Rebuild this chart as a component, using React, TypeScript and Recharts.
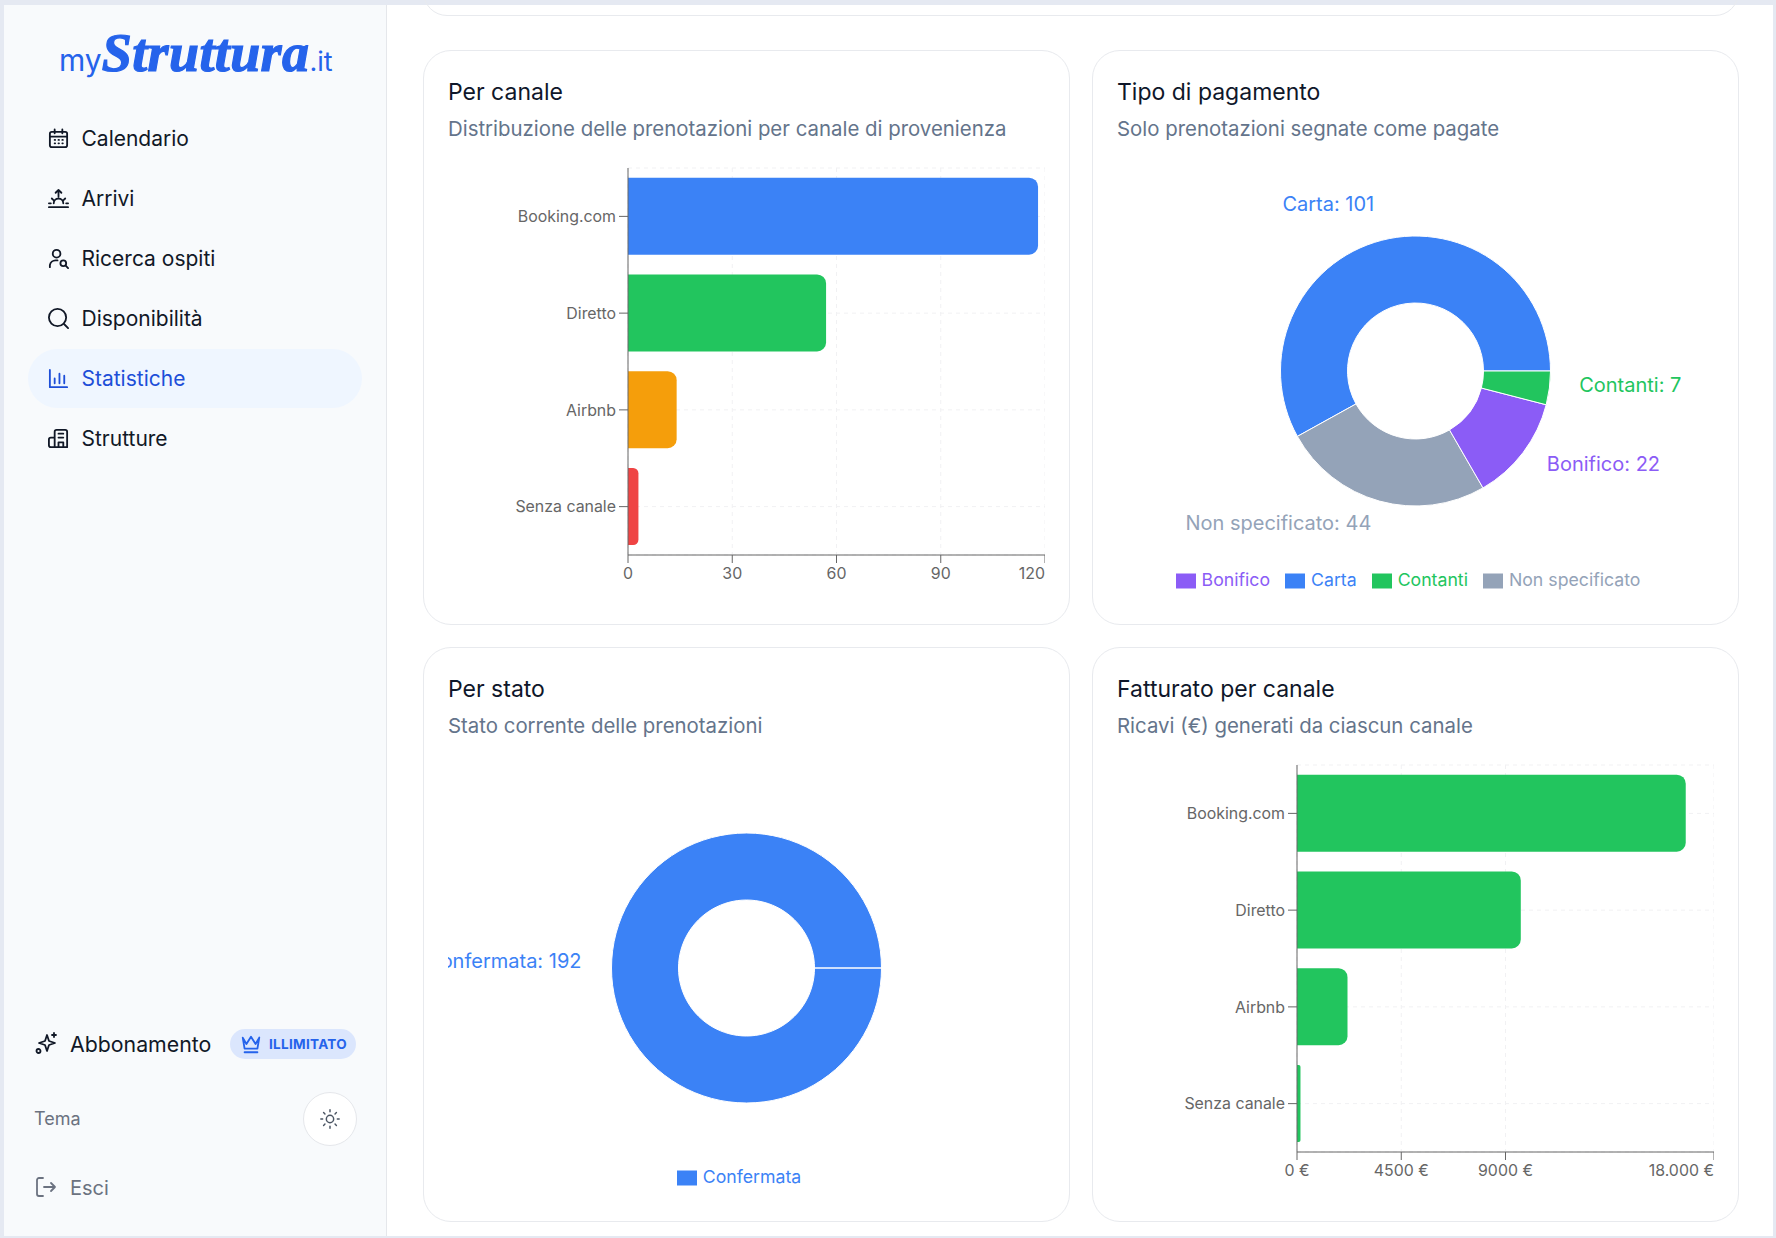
import React from "react";
import { BarChart, Bar, Cell, XAxis, YAxis, CartesianGrid, PieChart, Pie, Legend } from "recharts";

const FONT = "Inter, 'Noto Sans', sans-serif";
// recharts measures tick labels in a span on body, so it has to see the same font
document.body.style.fontFamily = FONT;

const channels = ["Booking.com", "Diretto", "Airbnb", "Senza canale"];
const channelBookings = [118, 57, 14, 3];
const channelColors = ["#3b82f6", "#22c55e", "#f59e0b", "#ef4444"];
const bookingTicks = [0, 30, 60, 90, 120];

const channelRevenue = [16780, 9660, 2180, 150];
const revenueTicks = [0, 4500, 9000, 18000];
const revenueTickLabels = ["0 €", "4500 €", "9000 €", "18.000 €"];

const paymentNames = ["Carta", "Non specificato", "Bonifico", "Contanti"];
const paymentValues = [101, 44, 22, 7];
const paymentColors = ["#3b82f6", "#94a3b8", "#8b5cf6", "#22c55e"];

const statusNames = ["Confermata"];
const statusValues = [192];
const statusColors = ["#3b82f6"];

const navItems = ["Calendario", "Arrivi", "Ricerca ospiti", "Disponibilità", "Statistiche", "Strutture"];

const CHART_W = 597;
const CHART_H = 440;
const RAD = Math.PI / 180;

function PieLabel(p: any) {
  const r = p.outerRadius + 30;
  const x = p.cx + r * Math.cos(-p.midAngle * RAD);
  const y = p.cy + r * Math.sin(-p.midAngle * RAD);
  return (
    <text x={x} y={y} fill={p.fill} textAnchor={x > p.cx ? "start" : "end"} fontSize={20} fontFamily={FONT}>
      {`${p.name}: ${p.value}`}
    </text>
  );
}

function Donut({ names, values, colors }: { names: string[]; values: number[]; colors: string[] }) {
  const rows = names.map((name, i) => ({ name, value: values[i], fill: colors[i] }));
  return (
    <PieChart width={CHART_W} height={CHART_H} margin={{ top: 0, right: 0, bottom: 9, left: 0 }}>
      <Pie
        data={rows}
        dataKey="value"
        nameKey="name"
        cx="50%"
        cy={211}
        innerRadius={68}
        outerRadius={135}
        label={PieLabel}
        labelLine={false}
        isAnimationActive={false}
      />
      <Legend iconSize={20} wrapperStyle={{ fontSize: 17.7, fontFamily: FONT }} />
    </PieChart>
  );
}

function HBar({ values, colors, ticks, fmt }: { values: number[]; colors: string[]; ticks: number[]; fmt?: (v: number) => string }) {
  const rows = channels.map((name, i) => ({ name, value: values[i] }));
  return (
    <BarChart width={CHART_W} height={CHART_H} data={rows} layout="vertical" margin={{ top: 8, right: 0, bottom: 15, left: 0 }}>
      <CartesianGrid strokeDasharray="4 4" stroke="#f1f1f3" />
      <XAxis
        type="number"
        domain={[ticks[0], ticks[ticks.length - 1]]}
        ticks={ticks}
        tickFormatter={fmt}
        height={30}
        tickSize={8}
        tickMargin={5}
        tick={{ fontSize: 15.9, fontFamily: FONT, fill: "#666" }}
        stroke="#666"
      />
      <YAxis
        type="category"
        dataKey="name"
        width={180}
        tickSize={9}
        tickMargin={3}
        tick={{ fontSize: 15.9, fontFamily: FONT, fill: "#666" }}
        stroke="#666"
      />
      <Bar dataKey="value" radius={[0, 9, 9, 0]} isAnimationActive={false}>
        {rows.map((r, i) => (
          <Cell key={r.name} fill={colors[i % colors.length]} />
        ))}
      </Bar>
    </BarChart>
  );
}

function Card({ x, y, title, sub, children }: { x: number; y: number; title: string; sub: string; children: React.ReactNode }) {
  return (
    <div style={{ position: "absolute", left: x, top: y, width: 647, height: 575, boxSizing: "border-box", background: "#fff", border: "1px solid #e8eaee", borderRadius: 28 }}>
      <div style={{ position: "absolute", left: 24, top: 26, fontSize: 23, lineHeight: "30px", color: "#0f172a", whiteSpace: "nowrap" }}>{title}</div>
      <div style={{ position: "absolute", left: 24, top: 64, fontSize: 20.4, lineHeight: "28px", color: "#64748b", whiteSpace: "nowrap" }}>{sub}</div>
      <div style={{ position: "absolute", left: 24, top: 109, width: CHART_W, height: CHART_H, overflow: "hidden" }}>{children}</div>
    </div>
  );
}

const iconPaths: Record<string, React.ReactNode> = {
  Calendario: (
    <>
      <rect x="3" y="5" width="18" height="16" rx="2" />
      <path d="M3 10h18M8 2.5v4M16 2.5v4M8 13.5h.5M12 13.5h.5M16 13.5h.5M8 17h.5M12 17h.5M16 17h.5" />
    </>
  ),
  Arrivi: <path d="M2 21h20M12 3v7M9 6l3-3 3 3M7 17a5 5 0 0 1 10 0M2 17h2M20 17h2M5 12l1.5 1.5M19 12l-1.5 1.5" />,
  "Ricerca ospiti": (
    <>
      <circle cx="10" cy="7" r="4" />
      <path d="M3 21v-2a6 6 0 0 1 6-5h2" />
      <circle cx="17" cy="17" r="3" />
      <path d="M19.5 19.5L22 22" />
    </>
  ),
  Disponibilità: (
    <>
      <circle cx="11" cy="11" r="9" />
      <path d="M18 18l4 4" />
    </>
  ),
  Statistiche: <path d="M3 3v18h18M8 17v-5M13 17V7M18 17v-8" />,
  Strutture: (
    <>
      <path d="M8 21V5a2 2 0 0 1 2-2h9a2 2 0 0 1 2 2v16zM8 11H4a2 2 0 0 0-2 2v6a2 2 0 0 0 2 2h4" />
      <path d="M12 7h5M12 11h5M12 21v-5h5v5" />
    </>
  ),
};

function Sidebar() {
  return (
    <div style={{ position: "absolute", left: 4, top: 5, width: 383, height: 1231, background: "#f8fafc", borderRight: "1px solid #e5e7eb", boxSizing: "border-box" }}>
      <div style={{ position: "absolute", left: 55, top: 18, whiteSpace: "nowrap", color: "#2563eb", lineHeight: "60px" }}>
        <span style={{ fontSize: 30 }}>my</span>
        <span style={{ fontSize: 54, letterSpacing: 0.4, fontFamily: "'Liberation Serif', serif", fontStyle: "italic", fontWeight: 700, WebkitTextStroke: "1.2px #2563eb" }}>Struttura</span>
        <span style={{ fontSize: 27 }}>.it</span>
      </div>
      <div style={{ position: "absolute", left: 24, top: 344, width: 334, height: 59, borderRadius: 30, background: "#eff6ff" }} />
      {navItems.map((item, i) => {
        const active = item === "Statistiche";
        const color = active ? "#1d4ed8" : "#111827";
        return (
          <div key={item} style={{ position: "absolute", left: 43, top: 108 + i * 60, height: 50, display: "flex", alignItems: "center", color }}>
            <svg width="23" height="23" viewBox="0 0 24 24" fill="none" stroke={color} strokeWidth="1.9" strokeLinecap="round" strokeLinejoin="round">
              {iconPaths[item]}
            </svg>
            <span style={{ marginLeft: 11.5, fontSize: 21 }}>{item}</span>
          </div>
        );
      })}
      <svg style={{ position: "absolute", left: 30, top: 1026 }} width="24" height="24" viewBox="0 0 24 24" fill="none" stroke="#111827" strokeWidth="1.8" strokeLinecap="round" strokeLinejoin="round">
        <path d="M13 4l2 6 6 2-6 2-2 6-2-6-6-2 6-2zM20 2v4M18 4h4" />
        <circle cx="4.5" cy="20" r="2" />
      </svg>
      <div style={{ position: "absolute", left: 66, top: 1024, fontSize: 21.3, lineHeight: "30px", color: "#111827" }}>Abbonamento</div>
      <div style={{ position: "absolute", left: 226, top: 1024, width: 126, height: 30, borderRadius: 15, background: "#dbe6fd", display: "flex", alignItems: "center" }}>
        <svg style={{ marginLeft: 10 }} width="22" height="22" viewBox="0 0 24 24" fill="none" stroke="#2563eb" strokeWidth="2" strokeLinecap="round" strokeLinejoin="round">
          <path d="M3 5l4 7 5-8 5 8 4-7-2 12H5zM5 21h14" />
        </svg>
        <span style={{ marginLeft: 7, fontSize: 13.5, fontWeight: 700, color: "#2563eb", letterSpacing: 0.3 }}>ILLIMITATO</span>
      </div>
      <div style={{ position: "absolute", left: 30, top: 1099, fontSize: 18, lineHeight: "30px", color: "#6b7280" }}>Tema</div>
      <div style={{ position: "absolute", left: 299, top: 1087, width: 54, height: 54, boxSizing: "border-box", borderRadius: 27, background: "#fff", border: "1px solid #e5e7eb", display: "flex", alignItems: "center", justifyContent: "center" }}>
        <svg width="22" height="22" viewBox="0 0 24 24" fill="none" stroke="#4b5563" strokeWidth="1.6" strokeLinecap="round">
          <circle cx="12" cy="12" r="4" />
          <path d="M12 2v2M12 20v2M2 12h2M20 12h2M5 5l1.5 1.5M17.5 17.5L19 19M5 19l1.5-1.5M17.5 6.5L19 5" />
        </svg>
      </div>
      <svg style={{ position: "absolute", left: 30, top: 1170 }} width="24" height="24" viewBox="0 0 24 24" fill="none" stroke="#6b7280" strokeWidth="1.8" strokeLinecap="round" strokeLinejoin="round">
        <path d="M9 3H5a2 2 0 0 0-2 2v14a2 2 0 0 0 2 2h4M10 12h11M17 8l4 4-4 4" />
      </svg>
      <div style={{ position: "absolute", left: 66, top: 1168, fontSize: 20, lineHeight: "30px", color: "#6b7280" }}>Esci</div>
    </div>
  );
}

const euro = (v: number) => revenueTickLabels[revenueTicks.indexOf(v)];

export default function App() {
  return (
    <div style={{ position: "absolute", left: 0, top: 0, width: 1776, height: 1238, overflow: "hidden", background: "#e5e9f2", fontFamily: FONT }}>
      <style>{`.recharts-legend-item{margin-right:15px !important}.recharts-legend-item svg{margin-right:6px !important}`}</style>
      <div style={{ position: "absolute", left: 387, top: 5, width: 1386, height: 1231, background: "#fff" }} />
      <div style={{ position: "absolute", left: 423, top: -40, width: 1316, height: 56, boxSizing: "border-box", border: "1px solid #e8eaee", borderRadius: 24 }} />
      <Sidebar />
      <Card x={423} y={50} title="Per canale" sub="Distribuzione delle prenotazioni per canale di provenienza">
        <HBar values={channelBookings} colors={channelColors} ticks={bookingTicks} />
      </Card>
      <Card x={1092} y={50} title="Tipo di pagamento" sub="Solo prenotazioni segnate come pagate">
        <Donut names={paymentNames} values={paymentValues} colors={paymentColors} />
      </Card>
      <Card x={423} y={647} title="Per stato" sub="Stato corrente delle prenotazioni">
        <Donut names={statusNames} values={statusValues} colors={statusColors} />
      </Card>
      <Card x={1092} y={647} title="Fatturato per canale" sub="Ricavi (€) generati da ciascun canale">
        <HBar values={channelRevenue} colors={["#22c55e"]} ticks={revenueTicks} fmt={euro} />
      </Card>
    </div>
  );
}
